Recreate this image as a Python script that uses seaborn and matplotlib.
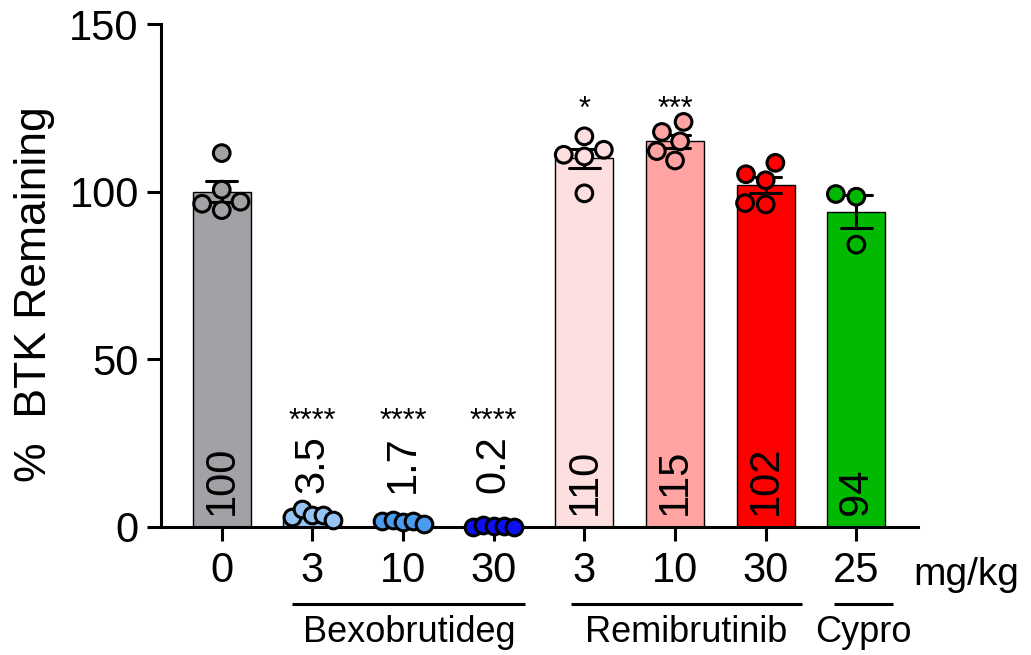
import numpy as np
import pandas as pd
import matplotlib
matplotlib.use("Agg")
import matplotlib.pyplot as plt
import seaborn as sns

# ---- data -------------------------------------------------------------
groups = ["Vehicle", "Bexo 3", "Bexo 10", "Bexo 30",
          "Remi 3", "Remi 10", "Remi 30", "Cypro 25"]
dose_labels = ["0", "3", "10", "30", "3", "10", "30", "25"]
bar_colors = ["#a2a2a6", "#96c4f5", "#4c9cee", "#0c10f0",
              "#fddfe0", "#ffa3a3", "#ff0000", "#00b900"]

btk_vehicle = [111.5, 100.6, 94.5, 97.0, 96.4]
btk_bexo_3 = [3.0, 5.5, 3.5, 3.5, 2.0]
btk_bexo_10 = [1.8, 2.2, 1.6, 1.9, 1.0]
btk_bexo_30 = [0.1, 0.5, 0.2, 0.3, -0.1]
btk_remi_3 = [112.5, 110.5, 116.5, 111.0, 99.5]
btk_remi_10 = [120.8, 115.0, 109.3, 117.8, 112.1]
btk_remi_30 = [108.6, 103.4, 96.2, 105.2, 96.6]
btk_cypro_25 = [99.3, 98.5, 84.2]

significance = ["", "****", "****", "****", "*", "***", "", ""]

drug_names = ["Bexobrutideg", "Remibrutinib", "Cypro"]
drug_members = [[1, 2, 3], [4, 5, 6], [7]]

# ---- long table -------------------------------------------------------
per_group = [btk_vehicle, btk_bexo_3, btk_bexo_10, btk_bexo_30,
             btk_remi_3, btk_remi_10, btk_remi_30, btk_cypro_25]
df = pd.DataFrame(
    [(g, v, k) for g, vals in zip(groups, per_group) for k, v in enumerate(vals)],
    columns=["group", "btk", "rep"],
)
palette = dict(zip(groups, bar_colors))

# ---- style ------------------------------------------------------------
sns.set_theme(style="ticks")
plt.rcParams["font.family"] = ["Liberation Sans", "DejaVu Sans"]
LW = 2.2
FS = 30

fig = plt.figure(figsize=(10.31, 6.55), dpi=100)
ax = fig.add_axes([161 / 1031, 128 / 655, 757 / 1031, 503 / 655])

sns.barplot(
    data=df, x="group", y="btk", order=groups, hue="group",
    palette=palette, legend=False, width=0.64,
    errorbar="se", capsize=0.34,
    err_kws={"color": "black", "linewidth": LW, "zorder": 2},
    edgecolor="black", linewidth=1.0, saturation=1, ax=ax,
)

# points: beeswarm where values are spread, evenly dodged rows where they sit
# almost on top of each other near zero
low_groups = [groups[i] for i in drug_members[0]]
sns.swarmplot(
    data=df[~df["group"].isin(low_groups)], x="group", y="btk", order=groups,
    hue="group", palette=palette, legend=False, size=12,
    edgecolor="black", linewidth=LW, ax=ax, zorder=3,
)
rep_levels = list(range(-1, 6))
for g in low_groups:
    sns.stripplot(
        data=df[df["group"] == g], x="group", y="btk", order=groups,
        hue="rep", hue_order=rep_levels,
        palette={r: palette[g] for r in rep_levels}, legend=False,
        dodge=True, jitter=False, size=12,
        edgecolor="black", linewidth=LW, ax=ax, zorder=3,
    )
# let the dots near zero sit on top of the baseline without being cut
for coll in ax.collections:
    if len(coll.get_offsets()) > 0:
        coll.set_clip_on(False)

ax.set_xlim(-0.67, 7.68)
ax.set_ylim(0, 150)
ax.set_yticks([0, 50, 100, 150])
ax.set_xticks(range(len(groups)))
ax.set_xticklabels(dose_labels)
ax.set_xlabel("")
sns.despine(ax=ax)
for side in ("left", "bottom"):
    ax.spines[side].set_linewidth(LW)
    ax.spines[side].set_color("black")
ax.tick_params(axis="both", length=10, width=LW, color="black",
               labelsize=FS, labelcolor="black", pad=6)
ax.tick_params(axis="x", pad=7)

# value labels taken from the drawn bar heights
for i, patch in enumerate(ax.patches[:len(groups)]):
    h = patch.get_height()
    xc = patch.get_x() + patch.get_width() / 2
    txt = f"{h:.1f}" if h < 10 else f"{h:.0f}"
    y0 = 10 if h < 10 else 3.5
    ax.text(xc, y0, txt, rotation=90, ha="center", va="bottom",
            fontsize=FS, color="black", zorder=4)

# significance stars
for i, s in enumerate(significance):
    if not s:
        continue
    ys = 27 if i < 4 else 120
    ax.text(i, ys, s, ha="center", va="bottom", fontsize=22,
            color="black", zorder=4)

ax.set_ylabel("%  BTK Remaining", fontsize=32, color="black")
ax.yaxis.set_label_coords(-0.14, 0.462)

# unit label next to the dose ticks
fig.text(913 / 1031, 1 - 585 / 655, "mg/kg", ha="left", va="baseline",
         fontsize=28, color="black")

# drug group underlines and names
line_spans = [(0.78, 3.35), (3.85, 6.40), (6.75, 7.40)]
for name, (x0, x1) in zip(drug_names, line_spans):
    ax.plot([x0, x1], [-23, -23], color="black", lw=LW, clip_on=False,
            solid_capstyle="butt")
    ax.text((x0 + x1) / 2, -34.3, name, ha="center", va="baseline",
            fontsize=26, color="black")

fig.savefig("out.png", dpi=100)
